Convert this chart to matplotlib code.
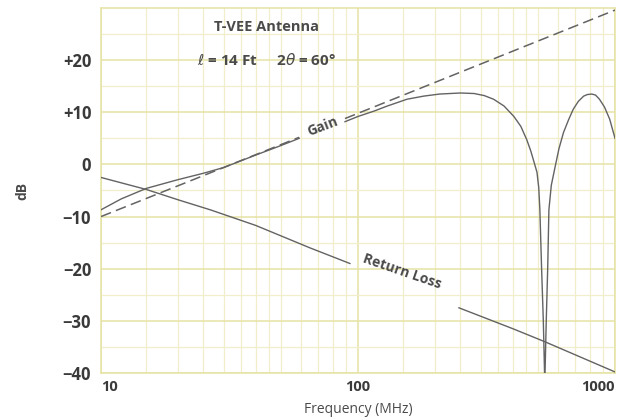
"""T-VEE antenna gain and return loss vs frequency."""

import matplotlib

matplotlib.use("Agg")
import matplotlib.pyplot as plt
from matplotlib.ticker import FixedLocator, NullFormatter

# gain curve, split where the "Gain" label sits
gain_lo_x = [10, 12, 15, 20, 25, 30, 40, 50, 59]
gain_lo_y = [-8.7, -6.6, -4.6, -2.9, -1.7, -0.6, 1.8, 3.6, 5.0]
gain_hi_x = [89, 100, 115, 130, 155, 180, 208, 250, 283, 310, 337, 370, 404, 430,
             453, 470, 485, 497, 505, 510, 518, 526, 533,
             540, 547, 553, 565, 585, 605, 630, 660, 688, 720, 755, 780, 812,
             840, 870, 910, 953, 1000]
gain_hi_y = [8.2, 9.2, 10.2, 11.2, 12.5, 13.1, 13.5, 13.7, 13.6, 13.2, 12.5, 11.2, 9.2, 7.3,
             4.8, 2.6, 0.3, -1.5, -4.5, -8.7, -20, -30, -42,
             -30, -20, -8.7, -4.0, -0.4, 3.0, 6.1, 8.6, 10.6, 12.1, 13.1, 13.4, 13.5,
             13.3, 12.5, 11.0, 8.7, 5.0]

# dashed reference line (broken at the label as well)
ref_lo_x = [10, 59]
ref_lo_y = [-10, 5.2]
ref_hi_x = [89, 1000]
ref_hi_y = [8.8, 29.6]

# return loss, split where its label sits
rl_lo_x = [10, 15, 20, 26.6, 40, 65, 93]
rl_lo_y = [-2.5, -4.8, -6.8, -8.7, -11.7, -16.0, -19.0]
rl_hi_x = [247, 400, 533, 1000]
rl_hi_y = [-27.5, -31.5, -34.0, -39.8]

x_ticks = [10, 100, 1000]
x_tick_labels = ["10", "100", "1000"]
y_ticks = [-40, -30, -20, -10, 0, 10, 20]
y_tick_labels = ["\u221240", "\u221230", "\u221220", "\u221210", "0", "+10", "+20"]

GRID_MAJOR = "#e6e3a4"
GRID_MINOR = "#f0eecb"
LINE = "#636363"
TEXT = "#4a4a4a"

plt.rcParams["font.family"] = ["Open Sans", "DejaVu Sans"]

fig = plt.figure(figsize=(6.17, 4.19), dpi=100)
ax = fig.add_axes([0.1637, 0.1098, 0.8331, 0.8711])

ax.set_xscale("log")
ax.set_xlim(10, 1000)
ax.set_ylim(-40, 30)

# log-paper style grid
minor_x = []
for dec in (10, 100):
    for m in (1.5, 2, 2.5, 3, 3.5, 4, 4.5, 5, 6, 7, 8, 9):
        minor_x.append(dec * m)
ax.xaxis.set_major_locator(FixedLocator(x_ticks))
ax.xaxis.set_minor_locator(FixedLocator(minor_x))
ax.xaxis.set_minor_formatter(NullFormatter())
ax.set_xticklabels(x_tick_labels)
ax.set_yticks(y_ticks)
ax.set_yticklabels(y_tick_labels)
ax.set_ylim(-40, 30)
ax.yaxis.set_minor_locator(FixedLocator(list(range(-35, 30, 10))))

ax.grid(True, which="major", color=GRID_MAJOR, lw=1.1, zorder=0)
ax.grid(True, which="minor", color=GRID_MINOR, lw=0.9, zorder=0)
ax.set_axisbelow(True)
for s in ax.spines.values():
    s.set_color(GRID_MAJOR)
    s.set_linewidth(1.1)

ax.tick_params(which="both", length=0)
ax.tick_params(axis="y", pad=7, labelsize=12, labelcolor="#3a3a3a")
ax.tick_params(axis="x", pad=5, labelsize=10.5, labelcolor="#3a3a3a")
for lab in ax.get_yticklabels() + ax.get_xticklabels():
    lab.set_fontweight("bold")
xl = ax.get_xticklabels()
xl[0].set_ha("left")
xl[-1].set_ha("right")

# curves
ax.plot(gain_lo_x, gain_lo_y, color=LINE, lw=1.0, zorder=3)
ax.plot(gain_hi_x, gain_hi_y, color=LINE, lw=1.0, zorder=3)
ax.plot(ref_lo_x, ref_lo_y, color=LINE, lw=1.1, ls=(0, (7, 3.5)), zorder=3)
ax.plot(ref_hi_x, ref_hi_y, color=LINE, lw=1.1, ls=(0, (7, 3.5)), zorder=3)
ax.plot(rl_lo_x, rl_lo_y, color=LINE, lw=1.0, zorder=3)
ax.plot(rl_hi_x, rl_hi_y, color=LINE, lw=1.0, zorder=3)

# labels on the plot
ax.text(73, 7.3, "Gain", rotation=21, ha="center", va="center",
        fontsize=10, fontweight="bold", color=TEXT)
ax.text(148, -20.6, "Return Loss", rotation=-19, ha="center", va="center",
        fontsize=10, fontweight="bold", color=TEXT)
ax.text(44, 26.4, "T-VEE Antenna", ha="center", va="center",
        fontsize=10.5, fontweight="bold", color=TEXT)
ax.text(44, 20.0, r"$\ell$ = 14 Ft     2$\theta$ = 60°", ha="center", va="center",
        fontsize=11, fontweight="bold", color=TEXT)

ax.set_xlabel("Frequency (MHz)", fontsize=10, color=TEXT, labelpad=6)
fig.text(0.036, 0.545, "dB", rotation=90, ha="center", va="center",
         fontsize=10, fontweight="bold", color=TEXT)

fig.savefig("out.png", dpi=100, facecolor="white")
